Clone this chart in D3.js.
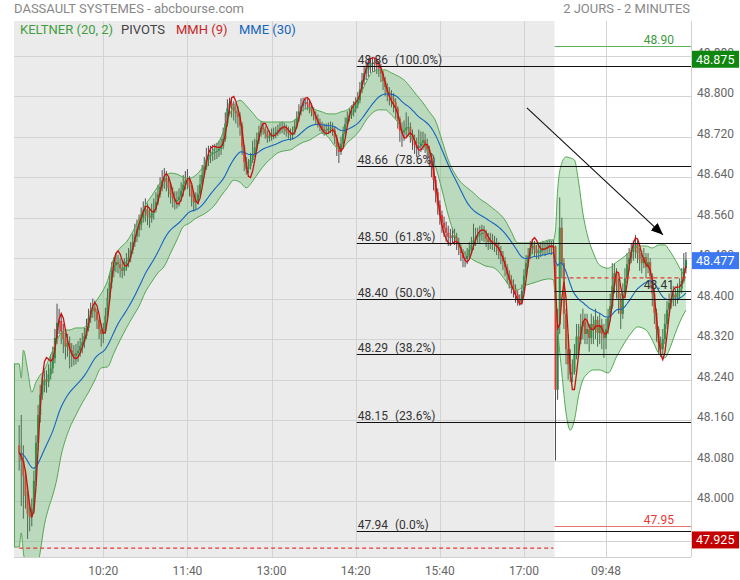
<!DOCTYPE html>
<html><head><meta charset="utf-8">
<script src="https://cdn.jsdelivr.net/npm/d3@7"></script>
<style>body{margin:0;background:#fff;} svg{font-family:Roboto,"Noto Sans",sans-serif;display:block}</style>
</head><body><svg id="c" width="740" height="580"></svg>
<script>
// ---------- DATA (2-minute candles, index 0 = 09:00 day 1, index 255 = 09:00 day 2) ----------
const firstOpen = 48.110;
const closes = [
48.095,48.080,48.050,48.010,47.975,47.968,47.985,48.040,48.115,48.170,
48.210,48.228,48.240,48.236,48.250,48.262,48.282,48.322,48.352,48.356,
48.335,48.320,48.305,48.312,48.298,48.290,48.287,48.292,48.297,48.306,
48.314,48.326,48.342,48.362,48.376,48.382,48.374,48.358,48.340,48.330,
48.336,48.366,48.402,48.432,48.455,48.466,48.472,48.468,48.460,48.455,
48.462,48.473,48.481,48.496,48.511,48.523,48.536,48.546,48.559,48.571,
48.576,48.564,48.560,48.569,48.576,48.591,48.606,48.621,48.633,48.638,
48.630,48.618,48.606,48.598,48.592,48.595,48.601,48.613,48.625,48.633,
48.635,48.620,48.601,48.590,48.593,48.606,48.626,48.645,48.660,48.675,
48.683,48.686,48.688,48.690,48.692,48.696,48.701,48.716,48.746,48.776,
48.786,48.780,48.771,48.766,48.759,48.742,48.700,48.670,48.656,48.662,
48.674,48.686,48.699,48.713,48.728,48.738,48.735,48.726,48.718,48.721,
48.724,48.726,48.729,48.733,48.737,48.738,48.735,48.731,48.727,48.723,
48.729,48.741,48.757,48.770,48.780,48.786,48.788,48.784,48.777,48.770,
48.762,48.755,48.748,48.741,48.735,48.732,48.733,48.736,48.738,48.734,
48.718,48.700,48.690,48.706,48.726,48.745,48.757,48.763,48.768,48.775,
48.783,48.792,48.813,48.831,48.845,48.853,48.859,48.864,48.866,48.864,
48.861,48.855,48.845,48.830,48.818,48.808,48.800,48.795,48.788,48.776,
48.755,48.732,48.728,48.733,48.738,48.739,48.725,48.712,48.704,48.698,
48.701,48.708,48.713,48.705,48.695,48.680,48.660,48.635,48.610,48.585,
48.565,48.550,48.540,48.530,48.522,48.520,48.525,48.522,48.512,48.502,
48.490,48.480,48.478,48.485,48.497,48.505,48.515,48.522,48.525,48.528,
48.530,48.528,48.518,48.512,48.515,48.512,48.508,48.502,48.494,48.485,
48.474,48.462,48.448,48.437,48.428,48.420,48.408,48.398,48.392,48.415,
48.445,48.470,48.485,48.500,48.505,48.497,48.490,48.492,48.497,48.500,
48.498,48.502,48.505,48.500,48.503,48.220,48.350,48.540,48.470,48.370,
48.300,48.270,48.250,48.255,48.290,48.325,48.318,48.345,48.355,48.330,
48.340,48.322,48.350,48.338,48.358,48.332,48.348,48.330,48.322,48.340,
48.362,48.385,48.425,48.450,48.430,48.400,48.370,48.410,48.440,48.468,
48.480,48.492,48.500,48.508,48.490,48.478,48.470,48.482,48.462,48.472,
48.445,48.410,48.372,48.340,48.312,48.300,48.320,48.350,48.378,48.392,
48.400,48.408,48.402,48.412,48.420,48.435,48.460,48.477];
const highs = [
48.150,48.170,48.110,48.060,48.020,47.995,48.005,48.060,48.130,48.190,
48.230,48.250,48.262,48.258,48.270,48.290,48.305,48.340,48.390,48.380,
48.368,48.350,48.332,48.330,48.325,48.312,48.308,48.310,48.316,48.322,
48.332,48.342,48.360,48.380,48.392,48.400,48.396,48.380,48.364,48.350,
48.352,48.382,48.420,48.450,48.472,48.482,48.490,48.486,48.480,48.474,
48.480,48.490,48.500,48.512,48.528,48.548,48.556,48.566,48.580,48.592,
48.598,48.588,48.580,48.588,48.598,48.610,48.625,48.640,48.654,48.658,
48.652,48.640,48.628,48.620,48.612,48.612,48.618,48.630,48.644,48.652,
48.656,48.642,48.624,48.610,48.610,48.624,48.644,48.664,48.680,48.698,
48.702,48.702,48.704,48.706,48.708,48.712,48.718,48.738,48.768,48.794,
48.797,48.796,48.790,48.784,48.780,48.768,48.748,48.704,48.680,48.676,
48.688,48.712,48.716,48.728,48.742,48.750,48.748,48.740,48.732,48.732,
48.736,48.738,48.740,48.744,48.748,48.750,48.748,48.744,48.740,48.736,
48.740,48.754,48.770,48.784,48.796,48.797,48.797,48.796,48.792,48.786,
48.778,48.770,48.764,48.756,48.750,48.746,48.746,48.748,48.750,48.748,
48.740,48.724,48.708,48.720,48.740,48.758,48.770,48.776,48.782,48.790,
48.798,48.808,48.828,48.846,48.860,48.868,48.875,48.875,48.875,48.875,
48.874,48.870,48.864,48.850,48.838,48.826,48.818,48.812,48.806,48.796,
48.780,48.760,48.748,48.752,48.768,48.760,48.748,48.734,48.724,48.718,
48.734,48.730,48.730,48.726,48.716,48.702,48.688,48.666,48.642,48.618,
48.594,48.574,48.562,48.552,48.544,48.538,48.540,48.538,48.530,48.520,
48.510,48.498,48.494,48.500,48.512,48.522,48.548,48.540,48.540,48.544,
48.546,48.544,48.536,48.530,48.530,48.528,48.524,48.520,48.512,48.504,
48.494,48.482,48.468,48.456,48.446,48.438,48.428,48.416,48.408,48.428,
48.458,48.486,48.500,48.514,48.518,48.514,48.506,48.506,48.510,48.514,
48.512,48.514,48.516,48.514,48.516,48.505,48.380,48.600,48.560,48.480,
48.380,48.330,48.300,48.280,48.310,48.350,48.350,48.370,48.380,48.370,
48.370,48.350,48.370,48.365,48.380,48.365,48.370,48.360,48.350,48.360,
48.380,48.410,48.470,48.470,48.460,48.440,48.410,48.430,48.460,48.490,
48.500,48.510,48.515,48.526,48.515,48.500,48.495,48.500,48.490,48.490,
48.480,48.450,48.420,48.380,48.345,48.325,48.340,48.370,48.395,48.410,
48.420,48.425,48.420,48.430,48.440,48.460,48.490,48.492];
const lows = [
48.060,47.990,47.965,47.985,47.925,47.940,47.950,47.975,48.030,48.100,
48.155,48.200,48.215,48.214,48.225,48.240,48.252,48.272,48.310,48.330,
48.310,48.292,48.280,48.285,48.262,48.265,48.268,48.270,48.275,48.285,
48.292,48.302,48.320,48.335,48.352,48.362,48.355,48.340,48.320,48.305,
48.312,48.330,48.360,48.395,48.420,48.442,48.452,48.450,48.442,48.440,
48.445,48.455,48.462,48.472,48.488,48.502,48.512,48.522,48.535,48.550,
48.552,48.545,48.540,48.550,48.556,48.570,48.585,48.600,48.612,48.617,
48.612,48.600,48.588,48.580,48.576,48.578,48.582,48.592,48.602,48.615,
48.616,48.602,48.582,48.572,48.576,48.586,48.600,48.620,48.640,48.654,
48.662,48.668,48.672,48.674,48.676,48.680,48.684,48.695,48.710,48.740,
48.762,48.758,48.752,48.746,48.738,48.722,48.684,48.652,48.645,48.648,
48.655,48.668,48.680,48.692,48.706,48.720,48.724,48.716,48.708,48.710,
48.712,48.715,48.717,48.721,48.725,48.727,48.724,48.720,48.716,48.712,
48.714,48.724,48.736,48.750,48.762,48.770,48.774,48.772,48.766,48.760,
48.752,48.744,48.738,48.731,48.726,48.722,48.723,48.725,48.727,48.722,
48.706,48.682,48.668,48.684,48.700,48.720,48.740,48.750,48.755,48.760,
48.768,48.776,48.786,48.806,48.822,48.832,48.838,48.846,48.848,48.848,
48.844,48.838,48.828,48.812,48.800,48.790,48.782,48.778,48.768,48.756,
48.736,48.710,48.700,48.712,48.718,48.722,48.708,48.694,48.686,48.680,
48.684,48.690,48.694,48.688,48.676,48.660,48.640,48.614,48.590,48.566,
48.546,48.530,48.522,48.512,48.504,48.504,48.508,48.506,48.496,48.486,
48.474,48.462,48.462,48.468,48.478,48.488,48.496,48.504,48.508,48.510,
48.514,48.512,48.502,48.496,48.498,48.496,48.492,48.486,48.478,48.468,
48.456,48.444,48.430,48.420,48.410,48.402,48.392,48.386,48.386,48.388,
48.410,48.440,48.462,48.478,48.488,48.484,48.478,48.478,48.482,48.486,
48.484,48.488,48.490,48.486,48.490,48.080,48.200,48.330,48.440,48.340,
48.270,48.240,48.235,48.235,48.250,48.280,48.290,48.310,48.320,48.310,
48.310,48.295,48.310,48.310,48.320,48.305,48.310,48.300,48.283,48.300,
48.330,48.355,48.380,48.410,48.400,48.370,48.340,48.360,48.400,48.430,
48.455,48.470,48.475,48.480,48.470,48.455,48.450,48.460,48.440,48.450,
48.420,48.385,48.350,48.315,48.290,48.285,48.290,48.310,48.340,48.365,
48.380,48.385,48.385,48.390,48.400,48.410,48.430,48.450];

// Keltner (20,2) band at these candle indices
const bandIdx = [0,1,2,4,6,8,10,12,14,16,18,20,22,24,27,30,33,36,39,42,45,48,51,54,57,60,63,66,69,72,75,78,81,84,87,90,93,96,99,102,105,108,111,114,117,120,123,126,129,132,135,138,141,144,147,150,153,156,159,162,165,168,171,174,177,180,183,186,189,192,195,198,201,204,207,210,213,216,219,222,225,228,231,234,237,240,243,246,249,252,254,255,256,258,260,262,264,266,268,270,273,276,280,284,288,291,294,298,301,304,307,309,312,315,317];
const bandUpper = [48.271,48.243,48.298,48.259,48.215,48.235,48.249,48.259,48.279,48.298,48.318,48.332,48.338,48.338,48.342,48.342,48.354,48.390,48.410,48.435,48.480,48.500,48.512,48.532,48.558,48.585,48.603,48.622,48.640,48.648,48.646,48.640,48.638,48.644,48.658,48.680,48.698,48.719,48.753,48.781,48.792,48.781,48.767,48.753,48.749,48.749,48.749,48.749,48.749,48.757,48.773,48.777,48.773,48.769,48.765,48.765,48.769,48.773,48.785,48.802,48.828,48.848,48.852,48.852,48.846,48.840,48.832,48.818,48.802,48.787,48.769,48.751,48.713,48.674,48.648,48.630,48.619,48.609,48.597,48.589,48.579,48.569,48.555,48.532,48.510,48.510,48.510,48.510,48.512,48.516,48.516,48.536,48.615,48.668,48.680,48.678,48.674,48.630,48.569,48.528,48.490,48.466,48.460,48.472,48.484,48.496,48.504,48.504,48.500,48.506,48.506,48.496,48.476,48.453,48.441];
const bandLower = [47.909,47.937,47.899,47.854,47.844,47.854,47.899,47.953,47.986,48.012,48.045,48.091,48.121,48.144,48.170,48.194,48.215,48.239,48.263,48.265,48.292,48.318,48.342,48.364,48.385,48.413,48.433,48.451,48.464,48.490,48.516,48.542,48.549,48.559,48.565,48.573,48.585,48.603,48.619,48.634,48.630,48.619,48.632,48.650,48.666,48.678,48.688,48.692,48.694,48.702,48.709,48.713,48.721,48.727,48.719,48.702,48.694,48.708,48.719,48.733,48.753,48.767,48.773,48.773,48.763,48.749,48.729,48.719,48.709,48.704,48.684,48.660,48.615,48.565,48.526,48.496,48.486,48.476,48.470,48.464,48.462,48.453,48.437,48.421,48.417,48.425,48.429,48.433,48.437,48.439,48.437,48.387,48.338,48.253,48.174,48.140,48.160,48.209,48.239,48.251,48.259,48.259,48.253,48.285,48.314,48.332,48.344,48.338,48.318,48.292,48.283,48.298,48.332,48.362,48.377];

const sessionRanges = [[0,254],[255,317]];
const prevCloseLevels = [47.907, 48.441];
const xTickIdx = [40,80,120,160,200,240,279];
const xTickLabels = ["10:20","11:40","13:00","14:20","15:40","17:00","09:48"];
const yTicks = [47.92,48.00,48.08,48.16,48.24,48.32,48.40,48.48,48.56,48.64,48.72,48.80,48.88];
const fibFromIdx = 160.5;
const fibLevels = [48.86,48.663,48.509,48.40,48.291,48.157,47.94];
const fibPrices = ["48.86","48.66","48.50","48.40","48.29","48.15","47.94"];
const fibPcts = ["(100.0%)","(78.6%)","(61.8%)","(50.0%)","(38.2%)","(23.6%)","(0.0%)"];
const pivotLevels = [48.90, 48.415, 47.95];
const pivotLabels = ["48.90","48.41","47.95"];
const pivotColors = ["#3c9a3c","#333333","#e53935"];
const pivotLineColors = ["#5cb55c","#222222","#e57373"];
const arrowFrom = [241.4, 48.777];
const arrowTo = [306.1, 48.526];
const legendItems = [["KELTNER (20, 2)","#3f9f3f"],["PIVOTS","#444"],["MMH (9)","#c62828"],["MME (30)","#1565c0"]];

// ---------- RENDER ----------
const plot = {left:14, right:691, top:21, bottom:557};
const svg = d3.select('#c');
const x = d3.scaleLinear().domain([40,279]).range([103.3,606]);
const y = d3.scaleLinear().domain([48,48.8]).range([501,96.2]);
const n = closes.length;
const opens = closes.map((c,i)=> i===0 ? firstOpen : closes[i-1]);

// indicators computed from closes
function ema(arr,p){const a=2/(p+1);const o=[];arr.forEach((v,i)=>o.push(i===0?v:o[i-1]+a*(v-o[i-1])));return o;}
function wma(arr,p){return arr.map((v,i)=>{const m=Math.min(p,i+1);let s=0,w=0;for(let k=0;k<m;k++){s+=arr[i-k]*(m-k);w+=m-k;}return s/w;});}
const w4=wma(closes,4), w9=wma(closes,9);
const hma = wma(closes.map((c,i)=>2*w4[i]-w9[i]),3);
const mme = ema(closes,30);

const defs = svg.append('defs');
defs.append('clipPath').attr('id','pc').append('rect')
  .attr('x',plot.left).attr('y',plot.top).attr('width',plot.right-plot.left).attr('height',plot.bottom-plot.top);
defs.append('marker').attr('id','ah').attr('viewBox','0 0 12 10').attr('refX',12).attr('refY',5)
  .attr('markerWidth',12).attr('markerHeight',10).attr('markerUnits','userSpaceOnUse').attr('orient','auto')
  .append('path').attr('d','M0,0L12,5L0,10Z').attr('fill','#000');

// backgrounds
const dayEdge = x(254.5);
svg.append('rect').attr('x',plot.left).attr('y',plot.top).attr('width',plot.right-plot.left).attr('height',plot.bottom-plot.top).attr('fill','#fff');
svg.append('rect').attr('x',plot.left).attr('y',plot.top).attr('width',dayEdge-plot.left).attr('height',plot.bottom-plot.top).attr('fill','#ebebeb');

// grid
const grid = svg.append('g').attr('stroke','#d3d3d3').attr('stroke-width',1);
yTicks.forEach(v=>grid.append('line').attr('x1',plot.left).attr('x2',plot.right).attr('y1',Math.round(y(v))+0.5).attr('y2',Math.round(y(v))+0.5));
xTickIdx.forEach(i=>grid.append('line').attr('x1',Math.round(x(i))+0.5).attr('x2',Math.round(x(i))+0.5).attr('y1',plot.top).attr('y2',plot.bottom));
svg.append('line').attr('x1',plot.right+0.5).attr('x2',plot.right+0.5).attr('y1',plot.top).attr('y2',plot.bottom).attr('stroke','#d0d0d0');
svg.append('line').attr('x1',plot.left).attr('x2',plot.right).attr('y1',plot.bottom+0.5).attr('y2',plot.bottom+0.5).attr('stroke','#d0d0d0');

const g = svg.append('g').attr('clip-path','url(#pc)');

// candles
const cg = g.append('g');
for(let i=0;i<n;i++){
  const o=opens[i], c=closes[i];
  const hi=Math.max(highs[i],o,c), lo=Math.min(lows[i],o,c);
  const cx=x(i);
  cg.append('line').attr('x1',cx).attr('x2',cx).attr('y1',y(hi)).attr('y2',y(lo)).attr('stroke','#505050').attr('stroke-width',1);
  const top=y(Math.max(o,c)), bot=y(Math.min(o,c));
  cg.append('rect').attr('x',cx-1.05).attr('width',2.1).attr('y',top).attr('height',Math.max(1,bot-top))
    .attr('fill', c>=o ? '#23884a' : '#e53935');
}

// Keltner band (drawn over candles, translucent)
const bandPts = bandIdx.map((k,j)=>({px:x(k),u:bandUpper[j],l:bandLower[j]}));
bandPts.unshift({px:plot.left,u:bandUpper[0],l:bandLower[0]});
g.append('path').datum(bandPts)
  .attr('d',d3.area().x(d=>d.px).y0(d=>y(d.l)).y1(d=>y(d.u)).curve(d3.curveMonotoneX))
  .attr('fill','rgba(76,175,80,0.30)');
const bl = d3.line().x(d=>d.px).curve(d3.curveMonotoneX);
g.append('path').datum(bandPts).attr('d',bl.y(d=>y(d.u))).attr('fill','none').attr('stroke','#54a854').attr('stroke-width',1);
g.append('path').datum(bandPts).attr('d',bl.y(d=>y(d.l))).attr('fill','none').attr('stroke','#54a854').attr('stroke-width',1);
g.append('line').attr('x1',plot.left+0.5).attr('x2',plot.left+0.5).attr('y1',y(bandUpper[0])).attr('y2',y(bandLower[0])).attr('stroke','#54a854');

// MME & MMH
g.append('path').datum(mme).attr('d',d3.line().x((d,i)=>x(i)).y(d=>y(d))).attr('fill','none').attr('stroke','#1565c0').attr('stroke-width',1.1);
g.append('path').datum(hma).attr('d',d3.line().x((d,i)=>x(i)).y(d=>y(d))).attr('fill','none').attr('stroke','#cc1010').attr('stroke-width',1.3);

// previous-close dashed lines
sessionRanges.forEach((r,j)=>{
  g.append('line').attr('x1',x(r[0])).attr('x2',x(r[1])).attr('y1',y(prevCloseLevels[j])).attr('y2',y(prevCloseLevels[j]))
   .attr('stroke','#e53935').attr('stroke-width',1.2).attr('stroke-dasharray','4,3');
});

// pivots (day 2)
pivotLevels.forEach((v,j)=>{
  const yy=Math.round(y(v))+0.5;
  svg.append('line').attr('x1',dayEdge).attr('x2',plot.right).attr('y1',yy).attr('y2',yy).attr('stroke',pivotLineColors[j]).attr('stroke-width',1);
  svg.append('text').attr('x',674).attr('y',yy-3).attr('text-anchor','end').attr('font-size',12).attr('fill',pivotColors[j]).text(pivotLabels[j]);
});

// Fibonacci retracement
fibLevels.forEach((v,j)=>{
  const yy=Math.round(y(v))+0.5;
  svg.append('line').attr('x1',x(fibFromIdx)).attr('x2',plot.right).attr('y1',yy).attr('y2',yy).attr('stroke','#111').attr('stroke-width',1.1);
  const t=svg.append('text').attr('x',x(fibFromIdx)+1).attr('y',yy-3).attr('font-size',12).attr('fill','#333');
  t.append('tspan').text(fibPrices[j]);
  t.append('tspan').attr('dx',7).text(fibPcts[j]);
});

// arrow annotation
svg.append('line').attr('x1',x(arrowFrom[0])).attr('y1',y(arrowFrom[1])).attr('x2',x(arrowTo[0])).attr('y2',y(arrowTo[1]))
  .attr('stroke','#111').attr('stroke-width',1.1).attr('marker-end','url(#ah)');

// legend & titles
svg.append('text').attr('x',14).attr('y',13).attr('font-size',13).attr('fill','#888').text('DASSAULT SYSTEMES - abcbourse.com');
svg.append('text').attr('x',690).attr('y',13).attr('text-anchor','end').attr('font-size',13).attr('fill','#888').text('2 JOURS - 2 MINUTES');
const legX=[20,121,176,239];
legendItems.forEach((d,j)=>svg.append('text').attr('x',legX[j]).attr('y',33.5).attr('font-size',13).attr('fill',d[1]).text(d[0]));

// axes labels
const f3=d3.format('.3f');
yTicks.forEach(v=>svg.append('text').attr('x',697).attr('y',y(v)+1).attr('font-size',12).attr('fill','#666').text(f3(v)));
xTickIdx.forEach((k,j)=>svg.append('text').attr('x',x(k)).attr('y',575).attr('text-anchor','middle').attr('font-size',12).attr('fill','#666').text(xTickLabels[j]));

// value boxes (drawn over the axis labels they cover, as in the original)
const boxes=[[d3.max(highs),'#0f870f'],[closes[n-1],'#3b78f2'],[d3.min(lows),'#c40000']];
boxes.forEach(b=>{
  const yy=y(b[0]);
  svg.append('rect').attr('x',692).attr('y',yy-7.5).attr('width',47).attr('height',17).attr('fill',b[1]);
  svg.append('text').attr('x',696).attr('y',yy+5.5).attr('font-size',12.5).attr('fill','#fff').text(f3(b[0]));
});
</script>
</body></html>
